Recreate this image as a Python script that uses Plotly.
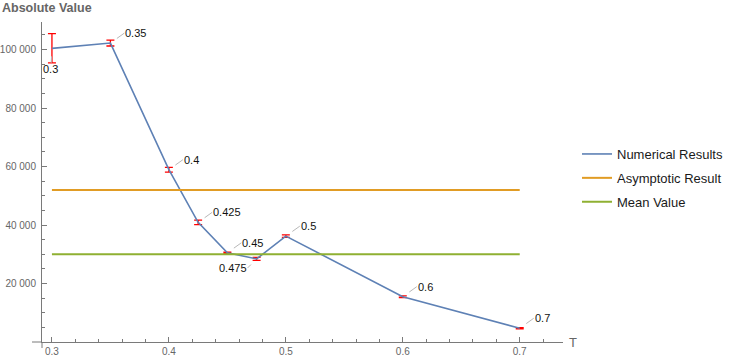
import plotly.graph_objects as go

# data
T = [0.3, 0.35, 0.4, 0.425, 0.45, 0.475, 0.5, 0.6, 0.7]
values = [100400, 102200, 58900, 40900, 30500, 28400, 36200, 15500, 4700]
errors = [5000, 1000, 800, 750, 250, 500, 450, 300, 200]
asymptotic = 52000
mean_value = 30000

x_ticks = [0.3, 0.4, 0.5, 0.6, 0.7]
y_ticks = [20000, 40000, 60000, 80000, 100000]

BLUE = "#5E81B5"
ORANGE = "#E19C24"
GREEN = "#8FB032"
AXIS = "#7a7a7a"
TICKTXT = "#666666"
FONT = "Liberation Sans, Arial, sans-serif"

fig = go.Figure()
fig.add_scatter(
    x=T, y=values, mode="lines", name="Numerical Results", legendgroup="a",
    line=dict(color=BLUE, width=1.6),
    error_y=dict(type="data", array=errors, color="#ff0000", thickness=1.3, width=4),
)
fig.add_scatter(
    x=[T[0], T[-1]], y=[asymptotic, asymptotic], mode="lines", legendgroup="b",
    name="Asymptotic Result", line=dict(color=ORANGE, width=2),
)
fig.add_scatter(
    x=[T[0], T[-1]], y=[mean_value, mean_value], mode="lines", legendgroup="c",
    name="Mean Value", line=dict(color=GREEN, width=2),
)

# callout labels: default sits up-right of the point
special = {
    0.3: dict(ax=-1, ay=21, xanchor="center", yanchor="middle"),
    0.475: dict(ax=-9, ay=9, xanchor="right", yanchor="middle"),
}
for t, v in zip(T, values):
    opts = special.get(t, dict(ax=14, ay=-10, xanchor="left", yanchor="middle"))
    fig.add_annotation(
        x=t, y=v, text=f"{t:g}", showarrow=True, arrowhead=0, arrowwidth=1,
        arrowcolor="#b8b8b8", standoff=8, font=dict(size=11, color="#111111"),
        borderpad=0, **opts,
    )

W_PLOT = 730 - 42 - 167
H_PLOT = 360 - 22 - 18

fig.add_annotation(
    x=-42 / W_PLOT, y=1 + 14 / H_PLOT, xref="paper", yref="paper",
    text="<b>Absolute Value</b>", showarrow=False, xanchor="left", yanchor="middle",
    font=dict(size=12.5, color=TICKTXT),
)
fig.add_annotation(
    x=1 + 4 / W_PLOT, y=0, xref="paper", yref="paper", text="T", showarrow=False,
    xanchor="left", yanchor="middle", font=dict(size=13, color=TICKTXT),
)

# small axis overhangs past the origin
fig.add_shape(type="line", xref="paper", yref="paper", x0=-10 / W_PLOT, x1=0, y0=0, y1=0,
              line=dict(color=AXIS, width=1))
fig.add_shape(type="line", xref="paper", yref="paper", x0=0, x1=0, y0=-6 / H_PLOT, y1=0,
              line=dict(color=AXIS, width=1))

fig.update_layout(
    width=730, height=360,
    margin=dict(l=42, r=167, t=22, b=18, autoexpand=False),
    paper_bgcolor="white", plot_bgcolor="white",
    separators=". ",
    font=dict(family=FONT, size=11),
    showlegend=True,
    legend=dict(
        x=1 + 14 / W_PLOT, y=1 - 156 / H_PLOT, xanchor="left", yanchor="middle",
        font=dict(size=13, color="#1a1a1a"), bgcolor="rgba(0,0,0,0)",
        tracegroupgap=4,
    ),
    xaxis=dict(
        range=[0.2915, 0.737], showgrid=False, zeroline=False, automargin=False,
        showline=True, linecolor=AXIS, linewidth=1,
        tickmode="array", tickvals=x_ticks, ticktext=[f"{v:g}" for v in x_ticks],
        ticks="inside", ticklen=5, tickcolor=AXIS,
        tickfont=dict(size=10, color=TICKTXT),
        minor=dict(dtick=0.02, tick0=0.3, ticks="inside", ticklen=3, tickcolor=AXIS, showgrid=False),
    ),
    yaxis=dict(
        range=[0, 109400], showgrid=False, zeroline=False, automargin=False,
        showline=True, linecolor=AXIS, linewidth=1,
        tickmode="array", tickvals=y_ticks, tickformat=",d",
        ticks="inside", ticklen=5, tickcolor=AXIS,
        tickfont=dict(size=10, color=TICKTXT), ticklabelstandoff=3,
        minor=dict(dtick=5000, tick0=0, ticks="inside", ticklen=3, tickcolor=AXIS, showgrid=False),
    ),
)

# the page's default 8px body margin would push the figure off the window
fig.write_html(
    "out.html",
    config={"displayModeBar": False},
    post_script="document.body.style.margin='0';",
)
